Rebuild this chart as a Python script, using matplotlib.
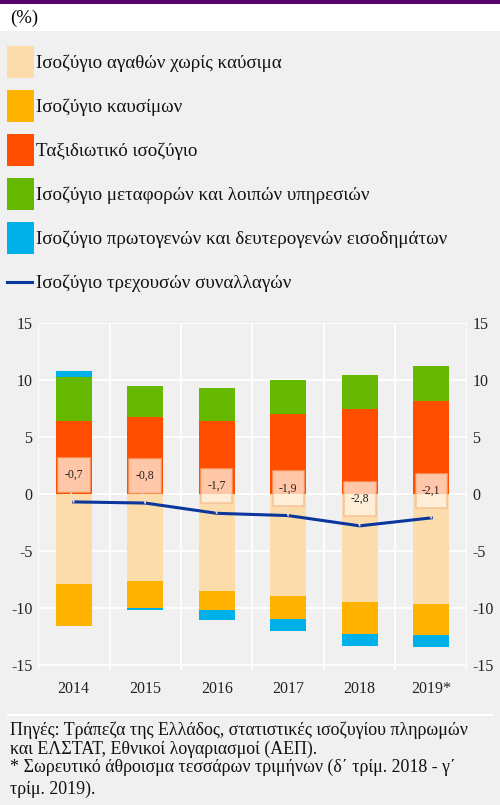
import matplotlib
matplotlib.use("Agg")
import matplotlib.pyplot as plt
from matplotlib.patches import Rectangle
from matplotlib.lines import Line2D
from matplotlib.path import Path
import numpy as np

plt.rcParams['font.family'] = ['Liberation Serif', 'DejaVu Serif']

# data (% of GDP)
years = ["2014", "2015", "2016", "2017", "2018", "2019*"]
goods_ex_fuel = [-7.9, -7.6, -8.5, -8.95, -9.45, -9.65]
fuel = [-3.65, -2.4, -1.7, -2.0, -2.8, -2.7]
travel = [6.4, 6.75, 6.4, 7.05, 7.45, 8.15]
transport_other = [3.85, 2.75, 2.9, 2.95, 3.0, 3.1]
income = [0.55, -0.2, -0.85, -1.05, -1.1, -1.05]
current_account = [-0.7, -0.8, -1.7, -1.9, -2.8, -2.1]
ca_labels = ["-0,7", "-0,8", "-1,7", "-1,9", "-2,8", "-2,1"]

series = [
    ("Ισοζύγιο αγαθών χωρίς καύσιμα", goods_ex_fuel, "#fcdcaa"),
    ("Ισοζύγιο καυσίμων", fuel, "#ffb300"),
    ("Ταξιδιωτικό ισοζύγιο", travel, "#ff4e00"),
    ("Ισοζύγιο μεταφορών και λοιπών υπηρεσιών", transport_other, "#66b800"),
    ("Ισοζύγιο πρωτογενών και δευτερογενών εισοδημάτων", income, "#00b0e8"),
]
line_label = "Ισοζύγιο τρεχουσών συναλλαγών"
line_color = "#0a369d"

W, H = 500, 805
fig = plt.figure(figsize=(W / 100, H / 100), dpi=100, facecolor="#f0f0f0")


def fx(px):
    return px / W


def fy(py):
    return 1 - py / H


# header strips
fig.add_artist(Rectangle((0, fy(31)), 1, 27 / H, transform=fig.transFigure,
                         facecolor="white", edgecolor="none"))
fig.add_artist(Rectangle((0, fy(4)), 1, 4 / H, transform=fig.transFigure,
                         facecolor="#55006b", edgecolor="none"))
fig.text(fx(10), fy(18), "(%)", fontsize=13.5, va="center", ha="left")

ax = fig.add_axes([fx(38), fy(670), 429 / W, 347 / H])
ax.set_facecolor("#f0f0f0")

x = np.arange(len(years))
pos_base = np.zeros(len(years))
neg_base = np.zeros(len(years))
for name, vals, col in series:
    vals = np.array(vals)
    bottoms = np.where(vals >= 0, pos_base, neg_base)
    ax.bar(x, vals, width=0.5, bottom=bottoms, color=col, zorder=2)
    pos_base = pos_base + np.where(vals >= 0, vals, 0)
    neg_base = neg_base + np.where(vals < 0, vals, 0)

ax.plot(x, current_account, color=line_color, lw=2.2, zorder=3)


def tallbox(x0, y0, width, height, mutation_size):
    # label box: less padding sideways, more up and down
    px, py = 0.55 * mutation_size, 0.95 * mutation_size
    x0, y0 = x0 - px, y0 - py
    x1, y1 = x0 + width + 2 * px, y0 + height + 2 * py
    return Path([(x0, y0), (x1, y0), (x1, y1), (x0, y1), (x0, y0)], closed=True)


for xi, yi, lab in zip(x, current_account, ca_labels):
    ax.annotate(lab, xy=(xi, yi), xytext=(0, 19.5), textcoords="offset points",
                ha="center", va="center", fontsize=8.5, zorder=5, color="#222222",
                bbox=dict(boxstyle=tallbox, fc="#fff6ea", ec="#f3b88c",
                          lw=1.2, alpha=0.72),
                arrowprops=dict(arrowstyle="-", color="#f6dcc4", lw=1.2,
                                relpos=(0.15, 0), shrinkA=0, shrinkB=0))

ax.set_xlim(-0.5, 5.5)
ax.set_ylim(-15.45, 15)
ax.set_yticks([-15, -10, -5, 0, 5, 10, 15])
ax.set_yticklabels(["-15", "-10", "-5", "0", "5", "10", "15"])
ax.set_xticks(x)
ax.set_xticklabels(years)
ax.set_xticks(np.arange(-0.5, 6, 1), minor=True)
ax.grid(which="minor", axis="x", color="white", lw=1.3, zorder=0)
ax.grid(which="major", axis="y", color="white", lw=1.3, zorder=0)
ax.tick_params(which="both", length=0, labelsize=11.5, colors="#222222")
ax.tick_params(axis="y", labelright=True, pad=4)
ax.tick_params(axis="x", pad=8)
for s in ax.spines.values():
    s.set_visible(False)

# legend, drawn by hand: 44 px per row
for i, (name, _, col) in enumerate(series):
    top = 46 + 44 * i
    fig.add_artist(Rectangle((fx(7), fy(top + 32)), 27 / W, 32 / H,
                             transform=fig.transFigure, facecolor=col, edgecolor="none"))
    fig.text(fx(36), fy(top + 17), name, fontsize=13.7, va="center", ha="left",
             color="#111111")
ly = 46 + 44 * len(series) + 16
fig.add_artist(Line2D([fx(7), fx(32)], [fy(ly), fy(ly)], transform=fig.transFigure,
                      color=line_color, lw=2.2))
fig.text(fx(36), fy(ly + 1), line_label, fontsize=13.7, va="center", ha="left",
         color="#111111")

# separator and footnotes
fig.add_artist(Line2D([fx(8), fx(492)], [fy(715), fy(715)],
                      transform=fig.transFigure, color="white", lw=1.5))
notes = [
    ("Πηγές: Τράπεζα της Ελλάδος, στατιστικές ισοζυγίου πληρωμών", 722),
    ("και ΕΛΣΤΑΤ, Εθνικοί λογαριασμοί (ΑΕΠ).", 741),
    ("* Σωρευτικό άθροισμα τεσσάρων τριμήνων (δ΄ τρίμ. 2018 - γ΄", 759),
    ("τρίμ. 2019).", 781),
]
for txt, yy in notes:
    fig.text(fx(10), fy(yy), txt, fontsize=12.9, va="top", ha="left", color="#111111")

fig.savefig("out.png", dpi=100, facecolor=fig.get_facecolor())
